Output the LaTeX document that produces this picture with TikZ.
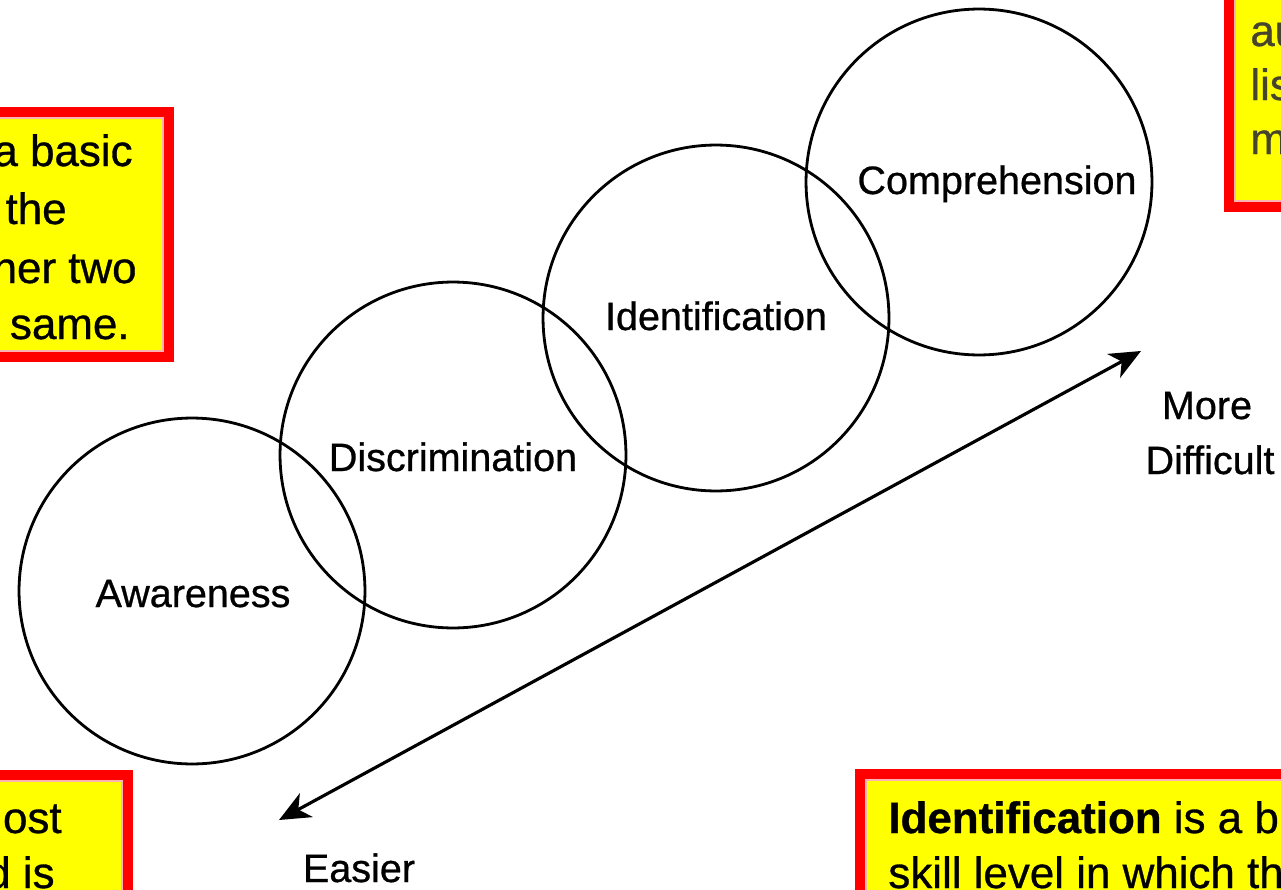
\documentclass[tikz,border=0pt]{standalone}
\usepackage{fontspec}
\setmainfont{Liberation Sans}
\newfontfamily\medfont{Liberation Sans}[FakeBold=0.7]
\usepackage{tikz}
\usetikzlibrary{arrows.meta,positioning,calc}
\definecolor{noteyellow}{RGB}{255,255,0}
\definecolor{notered}{RGB}{255,0,0}

\begin{document}
\begin{tikzpicture}[
        x=0.02cm, y=-0.02cm,
        stage/.style={circle, draw=black, line width=1.6pt, minimum size=6.92cm, inner sep=0pt},
        stagetext/.style={anchor=base, inner sep=0pt, font=\medfont\fontsize{22.5}{27}\selectfont},
        note/.style={draw=notered, line width=5.6pt, fill=noteyellow},
        noteline/.style={draw=notered!30, line width=0.8pt},
        notetext/.style={inner sep=0pt, font=\medfont\fontsize{25}{30}\selectfont},
        arrow/.style={{Stealth[length=6.2mm,width=5.4mm,inset=1.8mm]}-{Stealth[length=6.2mm,width=5.4mm,inset=1.8mm]}, line width=1.8pt}
    ]
        \clip (0,0) rectangle (1281,889);

        % notes at the edges
        \draw[note] (-60,112) rectangle (169,357);
        \draw[noteline] (-60,118) rectangle (163,351);
        \draw[note] (1229,-60) rectangle (1340,207);
        \draw[noteline] (1235,-60) rectangle (1340,201);
        \draw[note] (-60,775) rectangle (128,950);
        \draw[noteline] (-60,781) rectangle (122,950);
        \draw[note] (860,774) rectangle (1340,950);
        \draw[noteline] (866,780) rectangle (1340,950);

        \node[notetext, anchor=base east] (tla) at (133,166) {a basic};
        \node[notetext, anchor=base east] (tlb) at (67,224) {the};
        \node[notetext, anchor=base east] (tlc) at (137,283) {her two};
        \node[notetext, anchor=base east] (tld) at (130,339) {e same.};

        \node[notetext, anchor=base west, text=black!65!olive] (tra) at (1250,46) {au};
        \node[notetext, anchor=base west, text=black!65!olive] (trb) at (1250,100) {lis};
        \node[notetext, anchor=base west, text=black!65!olive] (trc) at (1250,154) {m};

        \node[notetext, anchor=base east] (bla) at (62,833) {ost};
        \node[notetext, anchor=base east] (blb) at (55,888) {d is};

        \node[notetext, anchor=base west] (bra) at (888,833) {\textbf{Identification} is a b};
        \node[notetext, anchor=base west] (brb) at (888,888) {skill level in which th};

        % the four stages
        \node[stage] (aware) at (192,591) {};
        \node[stage] (discr) at (453,455) {};
        \node[stage] (ident) at (716,318) {};
        \node[stage] (compr) at (979,182) {};

        \node[stagetext] (awaretext) at (193,607) {Awareness};
        \node[stagetext] (discrtext) at (453,471) {Discrimination};
        \node[stagetext] (identtext) at (716,330) {Identification};
        \node[stagetext] (comprtext) at (997,194) {Comprehension};

        % difficulty axis
        \coordinate (easy) at (279,820);
        \coordinate (hard) at (1141,351);
        \draw[arrow] (easy) -- (hard);

        \node[stagetext] (more) at (1207,419) {More};
        \node[stagetext] (difficult) at (1210,474) {Difficult};
        \node[stagetext] (easier) at (359,882) {Easier};
    \end{tikzpicture}
\end{document}
